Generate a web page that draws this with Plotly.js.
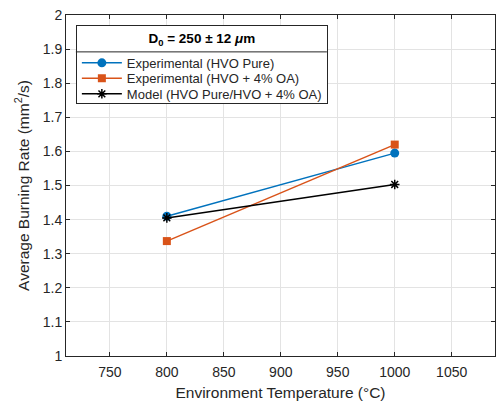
<!DOCTYPE html>
<html>
<head>
<meta charset="utf-8">
<script src="https://cdn.plot.ly/plotly-3.0.1.min.js"></script>
<style>html,body{margin:0;padding:0;background:#fff}#chart{width:496px;height:405px}</style>
</head>
<body>
<div id="chart"></div>
<script>
const temperatures = [800, 1000];
const hvoPure = [1.41, 1.595];
const hvoOA = [1.337, 1.62];
const model = [1.405, 1.503];
const seriesNames = ['Experimental (HVO Pure)', 'Experimental (HVO + 4% OA)', 'Model (HVO Pure/HVO + 4% OA)'];
const xTicks = [750, 800, 850, 900, 950, 1000, 1050];
const yTicks = [1, 1.1, 1.2, 1.3, 1.4, 1.5, 1.6, 1.7, 1.8, 1.9, 2];
const yTickLabels = ['1', '1.1', '1.2', '1.3', '1.4', '1.5', '1.6', '1.7', '1.8', '1.9', '2'];

const font = 'Liberation Sans, Arial, sans-serif';
const traces = [
  {x: temperatures, y: hvoPure, name: seriesNames[0], mode: 'lines+markers',
   line: {color: '#0072BD', width: 1.5}, marker: {symbol: 'circle', size: 9, color: '#0072BD'}},
  {x: temperatures, y: hvoOA, name: seriesNames[1], mode: 'lines+markers',
   line: {color: '#D95319', width: 1.5}, marker: {symbol: 'square', size: 8, color: '#D95319'}},
  {x: temperatures, y: model, name: seriesNames[2], mode: 'lines+markers',
   line: {color: '#000000', width: 1.5}, marker: {symbol: 'asterisk-open', size: 8, color: '#000000', line: {color: '#000000', width: 1.5}}}
];
const axisCommon = {
  showline: true, linecolor: '#262626', linewidth: 1, mirror: 'ticks',
  ticks: 'inside', ticklen: 4, tickcolor: '#262626',
  showgrid: true, gridcolor: '#e3e3e3', gridwidth: 1, zeroline: false,
  tickfont: {family: font, size: 14, color: '#262626'}
};
const layout = {
  width: 496, height: 405,
  margin: {l: 66, r: 1, t: 15, b: 49},
  paper_bgcolor: '#fff', plot_bgcolor: '#fff',
  xaxis: Object.assign({}, axisCommon, {
    range: [711.5, 1088], tickmode: 'array', tickvals: xTicks, ticktext: xTicks.map(String),
    ticklabelstandoff: 3,
    title: {text: 'Environment Temperature (°C)', font: {family: font, size: 15.5, color: '#262626'}, standoff: 8}
  }),
  yaxis: Object.assign({}, axisCommon, {
    range: [1, 2], tickmode: 'array', tickvals: yTicks, ticktext: yTickLabels,
    title: {text: 'Average Burning Rate (mm<sup>2</sup>/s)', font: {family: font, size: 15.5, color: '#262626'}, standoff: 9}
  }),
  showlegend: true,
  legend: {
    x: 0.023, y: 0.971, xanchor: 'left', yanchor: 'top',
    bgcolor: '#fff', bordercolor: '#262626', borderwidth: 1,
    font: {family: font, size: 13, color: '#262626'},
    tracegroupgap: 0, itemwidth: 40,
    title: {text: '<b>D<sub>0</sub> = 250 ± 12 <i>μ</i>m</b>', side: 'top center', font: {family: font, size: 13.5, color: '#000'}}
  }
};
Plotly.newPlot('chart', traces, layout, {displayModeBar: false, staticPlot: true}).then(function(){
  const lg = document.querySelector('.legend');
  if (!lg) return;
  const bg = lg.querySelector('.bg');
  const w = parseFloat(bg.getAttribute('width'));
  const bgRect = bg.getBoundingClientRect();
  // compact legend rows like the reference
  const rows = [38, 53.5, 69];
  const items = lg.querySelectorAll('g.traces');
  items.forEach(function(t, i){
    const txt = t.querySelector('.legendtext');
    if (!txt || i >= rows.length) return;
    const r = txt.getBoundingClientRect();
    const cy = (r.top + r.bottom) / 2 - bgRect.top;
    const m = /translate\(([-\d.e]+)[ ,]+([-\d.e]+)\)/.exec(t.getAttribute('transform') || '');
    if (!m) return;
    t.setAttribute('transform', 'translate(' + m[1] + ',' + (parseFloat(m[2]) + rows[i] - cy) + ')');
  });
  bg.setAttribute('height', 78);
  const ns = 'http://www.w3.org/2000/svg';
  const ln = document.createElementNS(ns, 'line');
  ln.setAttribute('x1', 0); ln.setAttribute('x2', w);
  ln.setAttribute('y1', 27); ln.setAttribute('y2', 27);
  ln.setAttribute('stroke', '#262626'); ln.setAttribute('stroke-width', 1);
  lg.appendChild(ln);
});
</script>
</body>
</html>
